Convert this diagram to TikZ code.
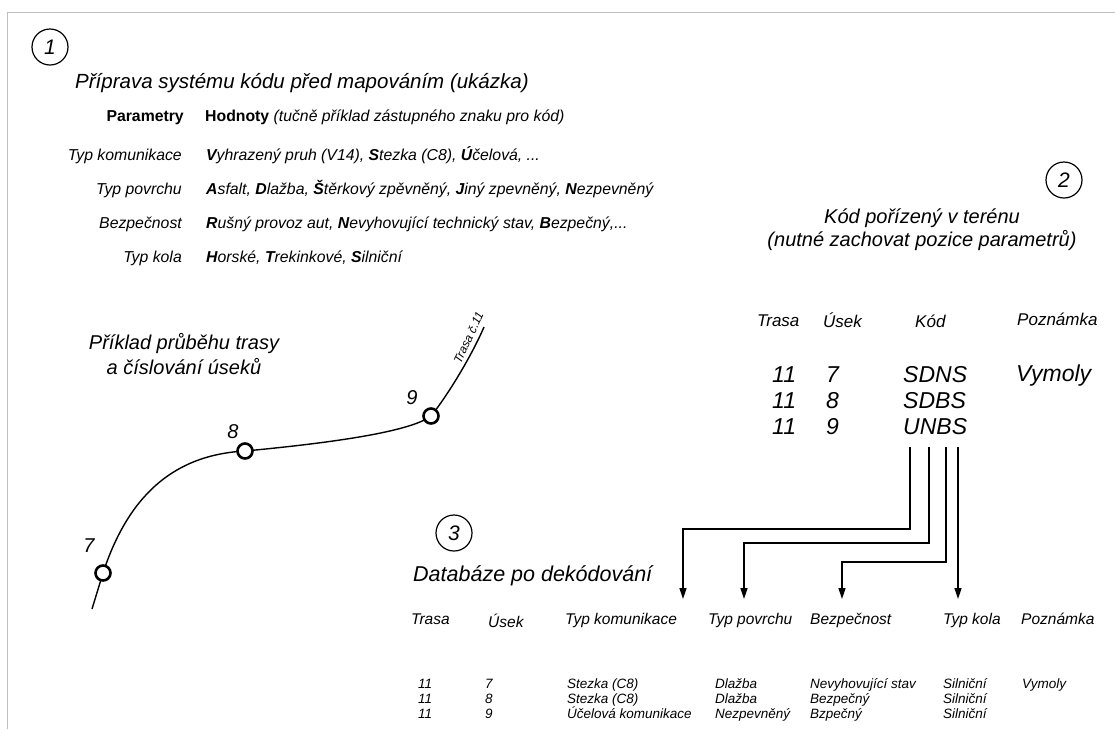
\documentclass[tikz,border=0pt]{standalone}
\usepackage{fontspec}
\setmainfont{Liberation Sans}
\usetikzlibrary{arrows.meta}
\newcommand{\FS}[1]{\fontsize{#1}{#1}\selectfont}
\newcommand{\BL}[1]{{\bfseries #1}}
\begin{document}
\begin{tikzpicture}[x=1pt,y=-1pt,
  tw/.style={inner sep=0pt, anchor=base west},
  te/.style={inner sep=0pt, anchor=base east},
  tc/.style={inner sep=0pt, anchor=base},
  numc/.style={circle, draw, line width=1.2pt, minimum size=36pt, inner sep=0pt, font=\FS{21}\itshape},
  stop/.style={circle, draw, line width=2.6pt, fill=white, minimum size=15pt, inner sep=0pt},
  route/.style={line width=1.4pt},
  connarrow/.style={line width=1.4pt, -{Triangle[length=11pt,width=7pt]}},
  frameline/.style={draw=black!25, line width=1.6pt}
]
\useasboundingbox (0,0) rectangle (1115,729);
\draw[frameline] (1115,12.5) -- (7.5,12.5) -- (7.5,729);

% ---------- section 1 ----------
\node[numc] (c1) at (50,47) {1};
\node[tw, font=\FS{20.5}\itshape] (title1) at (75,88) {Příprava systému kódu před mapováním (ukázka)};

\node[te, font=\FS{15.8}\bfseries] (par) at (184,121) {Parametry};
\node[tw, font=\FS{15.8}] (hod) at (205,121) {\bfseries Hodnoty \mdseries\itshape(tučně příklad zástupného znaku pro kód)};

\node[te, font=\FS{15.8}\itshape] (l1) at (182,160) {Typ komunikace};
\node[tw, font=\FS{15.8}\itshape] (v1) at (206,160) {\BL{V}yhrazený pruh (V14), \BL{S}tezka (C8), \BL{Ú}čelová, ...};
\node[te, font=\FS{15.8}\itshape] (l2) at (182,194) {Typ povrchu};
\node[tw, font=\FS{15.8}\itshape] (v2) at (206,194) {\BL{A}sfalt, \BL{D}lažba, \BL{Š}těrkový zpěvněný, \BL{J}iný zpevněný, \BL{N}ezpevněný};
\node[te, font=\FS{15.8}\itshape] (l3) at (182,228) {Bezpečnost};
\node[tw, font=\FS{15.8}\itshape] (v3) at (206,228) {\BL{R}ušný provoz aut, \BL{N}evyhovující technický stav, \BL{B}ezpečný,...};
\node[te, font=\FS{15.8}\itshape] (l4) at (182,262) {Typ kola};
\node[tw, font=\FS{15.8}\itshape] (v4) at (206,262) {\BL{H}orské, \BL{T}rekinkové, \BL{S}ilniční};

% ---------- route ----------
\node[tc, font=\FS{20}\itshape] (rt1) at (184,349) {Příklad průběhu trasy};
\node[tc, font=\FS{20}\itshape] (rt2) at (184,374) {a číslování úseků};
\coordinate (rs) at (92,609);
\coordinate (p7) at (103,573);
\coordinate (p8) at (245,451);
\coordinate (p9) at (431,416);
\coordinate (re) at (484,327);
\draw[route] (rs) -- (p7) .. controls (127,500) and (170,455) .. (p8)
  .. controls (330,443) and (410,432) .. (p9)
  .. controls (448,395) and (472,355) .. (re);
\node[stop] (n7) at (p7) {};
\node[stop] (n8) at (p8) {};
\node[stop] (n9) at (p9) {};
\node[tc, font=\FS{20}\itshape] (lab7) at (89,552) {7};
\node[tc, font=\FS{20}\itshape] (lab8) at (233,438) {8};
\node[tc, font=\FS{20}\itshape] (lab9) at (412,404) {9};
\node[inner sep=1.5pt, anchor=south, font=\FS{12}\itshape, rotate=65] (rname) at (474,340) {Trasa č.11};

% ---------- section 2 ----------
\node[numc] (c2) at (1064,180) {2};
\node[tc, font=\FS{20}\itshape] (k1) at (922,223) {Kód pořízený v terénu};
\node[tc, font=\FS{20}\itshape] (k2) at (922,246) {(nutné zachovat pozice parametrů)};

\node[tw, font=\FS{17}\itshape] (h2a) at (757,326) {Trasa};
\node[tw, font=\FS{17}\itshape] (h2b) at (823,327) {Úsek};
\node[tw, font=\FS{17}\itshape] (h2c) at (915,327) {Kód};
\node[tw, font=\FS{17}\itshape] (h2d) at (1017,325) {Poznámka};

\node[tw, font=\FS{23}\itshape] (r1a) at (772,382) {11};
\node[tw, font=\FS{23}\itshape] (r1b) at (826,382) {7};
\node[tw, font=\FS{23}\itshape] (r1c) at (903,382) {SDNS};
\node[tw, font=\FS{23}\itshape] (r1d) at (1016,381) {Vymoly};
\node[tw, font=\FS{23}\itshape] (r2a) at (772,408) {11};
\node[tw, font=\FS{23}\itshape] (r2b) at (826,408) {8};
\node[tw, font=\FS{23}\itshape] (r2c) at (903,408) {SDBS};
\node[tw, font=\FS{23}\itshape] (r3a) at (772,434) {11};
\node[tw, font=\FS{23}\itshape] (r3b) at (826,434) {9};
\node[tw, font=\FS{23}\itshape] (r3c) at (903,434) {UNBS};

% ---------- section 3 ----------
\node[numc] (c3) at (454,533) {3};
\node[tw, font=\FS{21.5}\itshape] (dtitle) at (413,581) {Databáze po dekódování};

\node[tw, font=\FS{15.5}\itshape] (h3a) at (411,624) {Trasa};
\node[tw, font=\FS{15.5}\itshape] (h3b) at (488,627) {Úsek};
\node[tw, font=\FS{15.5}\itshape] (h3c) at (565,624) {Typ komunikace};
\node[tw, font=\FS{15.5}\itshape] (h3d) at (708,624) {Typ povrchu};
\node[tw, font=\FS{15.5}\itshape] (h3e) at (810,624) {Bezpečnost};
\node[tw, font=\FS{15.5}\itshape] (h3f) at (943,624) {Typ kola};
\node[tw, font=\FS{15.5}\itshape] (h3g) at (1021,624) {Poznámka};

\foreach \y/\u/\tk/\tp/\bz/\pz [count=\i] in {
  688/7/Stezka (C8)/Dlažba/Nevyhovující stav/Vymoly,
  703/8/Stezka (C8)/Dlažba/Bezpečný/,
  718/9/Účelová komunikace/Nezpevněný/Bzpečný/}{
  \node[tw, font=\FS{13.5}\itshape] (d\i a) at (418,\y) {11};
  \node[tw, font=\FS{13.5}\itshape] (d\i b) at (485,\y) {\u};
  \node[tw, font=\FS{13.5}\itshape] (d\i c) at (567,\y) {\tk};
  \node[tw, font=\FS{13.5}\itshape] (d\i d) at (715,\y) {\tp};
  \node[tw, font=\FS{13.5}\itshape] (d\i e) at (810,\y) {\bz};
  \node[tw, font=\FS{13.5}\itshape] (d\i f) at (943,\y) {Silniční};
  \node[tw, font=\FS{13.5}\itshape] (d\i g) at (1022,\y) {\pz};
}

% ---------- connectors ----------
\coordinate (s1) at (910,447);
\coordinate (s2) at (929,447);
\coordinate (s3) at (946,447);
\coordinate (s4) at (958,447);
\coordinate (e1) at (683,599);
\coordinate (e2) at (744,599);
\coordinate (e3) at (842,599);
\coordinate (e4) at (958,599);
\draw[connarrow] (s1) |- (683,529) -- (e1);
\draw[connarrow] (s2) |- (744,543) -- (e2);
\draw[connarrow] (s3) |- (842,562) -- (e3);
\draw[connarrow] (s4) -- (e4);
\end{tikzpicture}
\end{document}
